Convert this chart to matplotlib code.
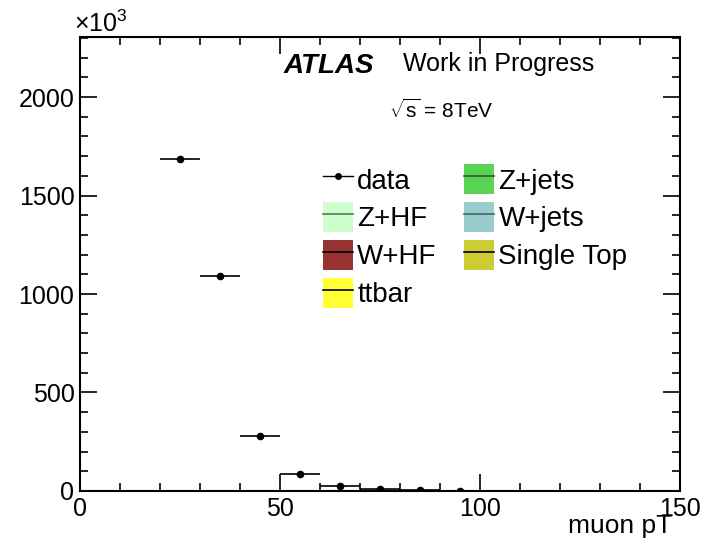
import numpy as np
import matplotlib.pyplot as plt
from matplotlib.patches import Patch
from matplotlib.lines import Line2D
from matplotlib.ticker import MultipleLocator

plt.rcParams['font.family'] = ['Liberation Sans', 'DejaVu Sans']
plt.rcParams['mathtext.fontset'] = 'custom'
plt.rcParams['mathtext.rm'] = 'Liberation Sans'
plt.rcParams['mathtext.it'] = 'Liberation Sans:italic'

# muon pT bins (GeV) and data counts (x10^3)
bin_lo = np.array([20, 30, 40, 50, 60, 70, 80, 90])
bin_hi = np.array([30, 40, 50, 60, 70, 80, 90, 100])
data_k = np.array([1688, 1094, 279, 88, 27, 10, 4, 1.5])

# background samples (legend only, contributions not visible)
bkg_names = ['Z+HF', 'W+HF', 'ttbar', 'Z+jets', 'W+jets', 'Single Top']
bkg_colors = ['#ccffcc', '#993333', '#ffff33', '#59d454', '#99cccc', '#cccc33']
bkg_lines = ['#557755', 'black', 'black', '#335533', '#446666', 'black']

fig = plt.figure(figsize=(7.1, 5.43), dpi=100)
ax = fig.add_axes([0.1127, 0.0958, 0.845, 0.8361])

centers = 0.5 * (bin_lo + bin_hi)
half = 0.5 * (bin_hi - bin_lo)
ax.errorbar(centers, data_k, xerr=half, fmt='o', color='black',
            markersize=4.5, elinewidth=1.2, capsize=0)

ax.set_xlim(0, 150)
ax.set_ylim(0, 2305)
ax.xaxis.set_major_locator(MultipleLocator(50))
ax.xaxis.set_minor_locator(MultipleLocator(10))
ax.yaxis.set_major_locator(MultipleLocator(500))
ax.yaxis.set_minor_locator(MultipleLocator(100))
ax.tick_params(which='both', direction='in', top=True, right=True, width=1.2)
ax.tick_params(which='major', length=12, labelsize=18, pad=4)
ax.tick_params(which='minor', length=6)
for s in ax.spines.values():
    s.set_linewidth(1.5)

ax.text(0.987, -0.078, 'muon pT', transform=ax.transAxes, fontsize=19,
        ha='right', va='center')
ax.text(-0.01, 1.0, r'$\times10^{3}$', transform=ax.transAxes,
        fontsize=18, ha='left', va='bottom')

ax.text(0.34, 0.935, 'ATLAS', transform=ax.transAxes, fontsize=20,
        fontweight='bold', fontstyle='italic', va='center')
ax.text(0.539, 0.94, 'Work in Progress', transform=ax.transAxes,
        fontsize=18, va='center')
ax.text(0.602, 0.839, r'$\sqrt{\rm s}$ = 8TeV', transform=ax.transAxes,
        fontsize=15, ha='center', va='center')

data_handle = Line2D([], [], color='black', marker='o', markersize=4, lw=1)
bkg_handles = [(Patch(facecolor=c), Line2D([], [], color=lc, lw=1.2))
               for c, lc in zip(bkg_colors, bkg_lines)]
handles = [data_handle, bkg_handles[0], bkg_handles[1], bkg_handles[2],
           bkg_handles[3], bkg_handles[4], bkg_handles[5]]
labels = ['data', 'Z+HF', 'W+HF', 'ttbar', 'Z+jets', 'W+jets', 'Single Top']
ax.legend(handles, labels, ncol=2, frameon=False, fontsize=20,
          loc='upper left', bbox_to_anchor=(0.405, 0.72),
          handlelength=1.08, handleheight=1.3, handletextpad=0.15,
          columnspacing=1.0, labelspacing=0.27, borderaxespad=0,
          borderpad=0)

fig.savefig('out.png', dpi=100)
